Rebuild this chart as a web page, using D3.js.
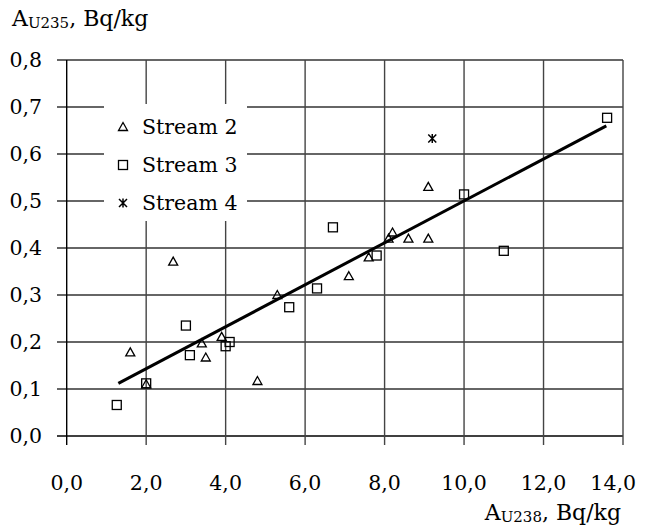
<!DOCTYPE html>
<html><head><meta charset="utf-8">
<script src="https://cdn.jsdelivr.net/npm/d3@7"></script>
<style>body{margin:0;background:#fff}svg{display:block}</style>
</head><body>
<svg id="c" width="649" height="530"></svg>
<script>
const xTicks = [0, 2, 4, 6, 8, 10, 12, 14];
const yTicks = [0, 0.1, 0.2, 0.3, 0.4, 0.5, 0.6, 0.7, 0.8];
const stream2X = [1.6, 2.0, 2.68, 3.4, 3.5, 3.9, 4.8, 5.3, 7.1, 7.6, 8.1, 8.2, 8.6, 9.1, 9.1];
const stream2Y = [0.178, 0.11, 0.371, 0.197, 0.167, 0.211, 0.117, 0.30, 0.34, 0.38, 0.42, 0.433, 0.42, 0.42, 0.53];
const stream3X = [1.26, 2.0, 3.0, 3.1, 4.0, 4.1, 5.6, 6.3, 6.7, 7.8, 10.0, 11.0, 13.6];
const stream3Y = [0.066, 0.112, 0.235, 0.172, 0.191, 0.20, 0.274, 0.314, 0.444, 0.384, 0.514, 0.394, 0.677];
const stream4X = [9.2];
const stream4Y = [0.633];
const trendX = [1.3, 13.58];
const trendY = [0.112, 0.66];
const legendNames = ["Stream 2", "Stream 3", "Stream 4"];

const svg = d3.select("#c");
const FS = 20.5, TFS = 22, SUB = 15;
const FONT = "'DejaVu Serif', serif";
const L = 66.7, R = 623, T = 60, B = 436;
const x = d3.scaleLinear().domain([0, 14]).range([L, R]);
const y = d3.scaleLinear().domain([0, 0.8]).range([B, T]);
const fmt = d => d3.format(".1f")(d).replace(".", ",");

svg.append("g").selectAll("line").data(yTicks).join("line")
  .attr("x1", 57).attr("x2", R).attr("y1", d => y(d)).attr("y2", d => y(d))
  .attr("stroke", d => d === 0 ? "#000" : "#333").attr("stroke-width", 1.4);
svg.append("g").selectAll("line").data(xTicks).join("line")
  .attr("x1", d => x(d)).attr("x2", d => x(d)).attr("y1", T).attr("y2", B + 9)
  .attr("stroke", d => d === 0 ? "#000" : "#444").attr("stroke-width", 1.4);

svg.append("g").selectAll("text").data(yTicks).join("text")
  .attr("x", 42).attr("y", d => y(d)).attr("dy", "0.36em").attr("text-anchor", "end")
  .style("font-family", FONT).attr("font-size", FS).text(fmt);
svg.append("g").selectAll("text").data(xTicks).join("text")
  .attr("x", (d, i) => i === xTicks.length - 1 ? 636 : x(d)).attr("y", 490)
  .attr("text-anchor", (d, i) => i === xTicks.length - 1 ? "end" : "middle")
  .style("font-family", FONT).attr("font-size", FS).text(fmt);

const yt = svg.append("text").attr("x", 12).attr("y", 26).style("font-family", FONT).attr("font-size", TFS);
yt.append("tspan").text("A");
yt.append("tspan").attr("font-size", SUB).attr("dy", 2).text("U235");
yt.append("tspan").attr("dy", -2).text(", Bq/kg");
const xt = svg.append("text").attr("x", 621).attr("y", 520).attr("text-anchor", "end").style("font-family", FONT).attr("font-size", TFS);
xt.append("tspan").text("A");
xt.append("tspan").attr("font-size", SUB).attr("dy", 2).text("U238");
xt.append("tspan").attr("dy", -2).text(", Bq/kg");

svg.append("rect").attr("x", 104).attr("y", 104).attr("width", 143).attr("height", 117).attr("fill", "#fff");

function tri(g, cx, cy) {
  g.append("path").attr("d", `M${cx},${cy-4.5}L${cx+4.5},${cy+3.5}L${cx-4.5},${cy+3.5}Z`)
    .attr("fill", "none").attr("stroke", "#000").attr("stroke-width", 1.3);
}
function sq(g, cx, cy) {
  g.append("rect").attr("x", cx - 4.5).attr("y", cy - 4.5).attr("width", 9).attr("height", 9)
    .attr("fill", "none").attr("stroke", "#000").attr("stroke-width", 1.3);
}
function star(g, cx, cy) {
  g.append("path").attr("d", `M${cx-4},${cy-4}L${cx+4},${cy+4}M${cx+4},${cy-4}L${cx-4},${cy+4}M${cx},${cy-4.5}L${cx},${cy+4.5}`)
    .attr("fill", "none").attr("stroke", "#000").attr("stroke-width", 1.5);
}

svg.append("line").attr("x1", x(trendX[0])).attr("y1", y(trendY[0]))
  .attr("x2", x(trendX[1])).attr("y2", y(trendY[1]))
  .attr("stroke", "#000").attr("stroke-width", 3);

const pts = svg.append("g");
stream2X.forEach((v, i) => tri(pts, x(v), y(stream2Y[i])));
stream3X.forEach((v, i) => sq(pts, x(v), y(stream3Y[i])));
stream4X.forEach((v, i) => star(pts, x(v), y(stream4Y[i])));

const lg = svg.append("g");
const makers = [tri, sq, star];
legendNames.forEach((n, i) => {
  const cy = 127 + i * 38;
  makers[i](lg, 123, cy);
  lg.append("text").attr("x", 142).attr("y", cy).attr("dy", "0.36em")
    .style("font-family", FONT).attr("font-size", FS).text(n);
});
</script>
</body></html>
